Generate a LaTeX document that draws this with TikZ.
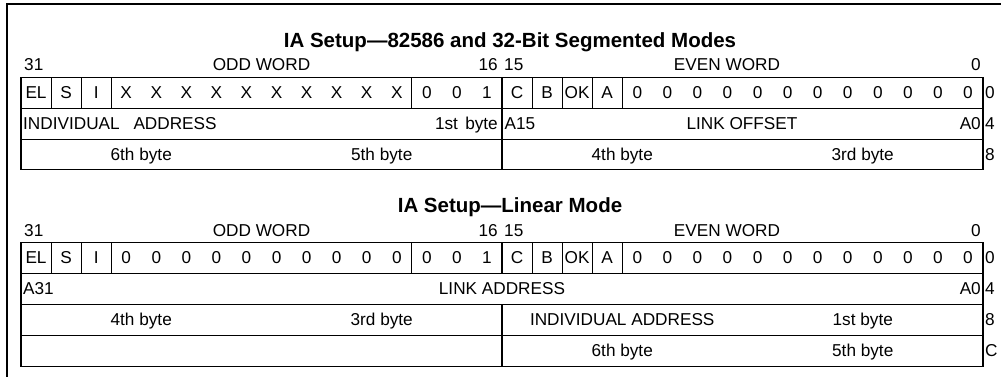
\documentclass[tikz,border=0pt]{standalone}
\usepackage{fontspec}
\setmainfont{Liberation Sans}
\begin{document}
\begin{tikzpicture}[x=1pt,y=-1pt,
  tbl/.style={line width=1.1pt},
  frame/.style={line width=1.2pt},
  txt/.style={font=\fontsize{17.2}{20}\selectfont, inner sep=0pt, anchor=base},
  ttl/.style={font=\fontsize{20.5}{24}\selectfont\bfseries, inner sep=0pt, anchor=base}]
\useasboundingbox (0,0) rectangle (1001,376);
\draw[frame] (7,4) rectangle (1030,400);
\def\bw{30.0625}
% ---------- Table 1 ----------
\def\ya{77.8}\def\yb{108.5}\def\yc{139.2}\def\yd{169.9}
\node[ttl] (t1) at (510,47) {IA Setup—82586 and 32-Bit Segmented Modes};
\node[txt,anchor=base west] (h1a) at (24,70) {31};
\node[txt] (h1b) at (261.5,70) {ODD WORD};
\node[txt,anchor=base east] (h1c) at (498,70) {16};
\node[txt,anchor=base west] (h1d) at (504,70) {15};
\node[txt] (h1e) at (727,70) {EVEN WORD};
\node[txt,anchor=base east] (h1f) at (981,70) {0};
\draw[tbl] (21,\ya) rectangle (983,\yd);
\draw[tbl] (21,\yb) -- (983,\yb) (21,\yc) -- (983,\yc);
\foreach \k in {1,2,3,13,16,17,18,19,20}
  \draw[tbl] ({21+\k*\bw},\ya) -- ({21+\k*\bw},\yb);
\draw[tbl] ({21+16*\bw},\yb) -- ({21+16*\bw},\yd);
\foreach \t [count=\i from 0] in {EL,S,I,X,X,X,X,X,X,X,X,X,X,0,0,1,C,B,OK,A,0,0,0,0,0,0,0,0,0,0,0,0}
  \node[txt] (pa\i) at ({21+(\i+0.5)*\bw},{\ya+20.5}) {\t};
\node[txt,anchor=base west] (pa-ia) at (23,{\yb+21}) {INDIVIDUAL\hspace{9pt} ADDRESS};
\node[txt,anchor=base east] (pa-b1) at (498,{\yb+21}) {1st\hspace{2.5pt} byte};
\node[txt,anchor=base west] (pa-a15) at (504.5,{\yb+21}) {A15};
\node[txt] (pa-lo) at (742,{\yb+21}) {LINK OFFSET};
\node[txt,anchor=base east] (pa-a0) at (981,{\yb+21}) {A0};
\node[txt] (pa-b6) at ({21+4*\bw},{\yc+21}) {6th byte};
\node[txt] (pa-b5) at ({21+12*\bw},{\yc+21}) {5th byte};
\node[txt] (pa-b4) at ({21+20*\bw},{\yc+21}) {4th byte};
\node[txt] (pa-b3) at ({21+28*\bw},{\yc+21}) {3rd byte};
\node[txt,anchor=base west] (pa-o0) at (985,{\ya+20.5}) {0};
\node[txt,anchor=base west] (pa-o4) at (985,{\yb+21}) {4};
\node[txt,anchor=base west] (pa-o8) at (985,{\yc+21}) {8};
% ---------- Table 2 ----------
\def\za{242.5}\def\zb{273.4}\def\zc{304.3}\def\zd{335.2}\def\ze{366.1}
\node[ttl] (t2) at (510,212) {IA Setup—Linear Mode};
\node[txt,anchor=base west] (h2a) at (24,236) {31};
\node[txt] (h2b) at (261.5,236) {ODD WORD};
\node[txt,anchor=base east] (h2c) at (498,236) {16};
\node[txt,anchor=base west] (h2d) at (504,236) {15};
\node[txt] (h2e) at (727,236) {EVEN WORD};
\node[txt,anchor=base east] (h2f) at (981,236) {0};
\draw[tbl] (21,\za) rectangle (983,\ze);
\draw[tbl] (21,\zb) -- (983,\zb) (21,\zc) -- (983,\zc) (21,\zd) -- (983,\zd);
\foreach \k in {1,2,3,13,16,17,18,19,20}
  \draw[tbl] ({21+\k*\bw},\za) -- ({21+\k*\bw},\zb);
\draw[tbl] ({21+16*\bw},\zc) -- ({21+16*\bw},\ze);
\foreach \t [count=\i from 0] in {EL,S,I,0,0,0,0,0,0,0,0,0,0,0,0,1,C,B,OK,A,0,0,0,0,0,0,0,0,0,0,0,0}
  \node[txt] (pb\i) at ({21+(\i+0.5)*\bw},{\za+20.5}) {\t};
\node[txt,anchor=base west] (pb-a31) at (23,{\zb+21}) {A31};
\node[txt] (pb-la) at (502,{\zb+21}) {LINK ADDRESS};
\node[txt,anchor=base east] (pb-a0) at (981,{\zb+21}) {A0};
\node[txt] (pb-b4) at ({21+4*\bw},{\zc+21}) {4th byte};
\node[txt] (pb-b3) at ({21+12*\bw},{\zc+21}) {3rd byte};
\node[txt] (pb-ia) at ({21+20*\bw},{\zc+21}) {INDIVIDUAL ADDRESS};
\node[txt] (pb-b1) at ({21+28*\bw},{\zc+21}) {1st byte};
\node[txt] (pb-b6) at ({21+20*\bw},{\zd+21}) {6th byte};
\node[txt] (pb-b5) at ({21+28*\bw},{\zd+21}) {5th byte};
\node[txt,anchor=base west] (pb-o0) at (985,{\za+20.5}) {0};
\node[txt,anchor=base west] (pb-o4) at (985,{\zb+21}) {4};
\node[txt,anchor=base west] (pb-o8) at (985,{\zc+21}) {8};
\node[txt,anchor=base west] (pb-oc) at (985,{\zd+21}) {C};
\end{tikzpicture}
\end{document}
